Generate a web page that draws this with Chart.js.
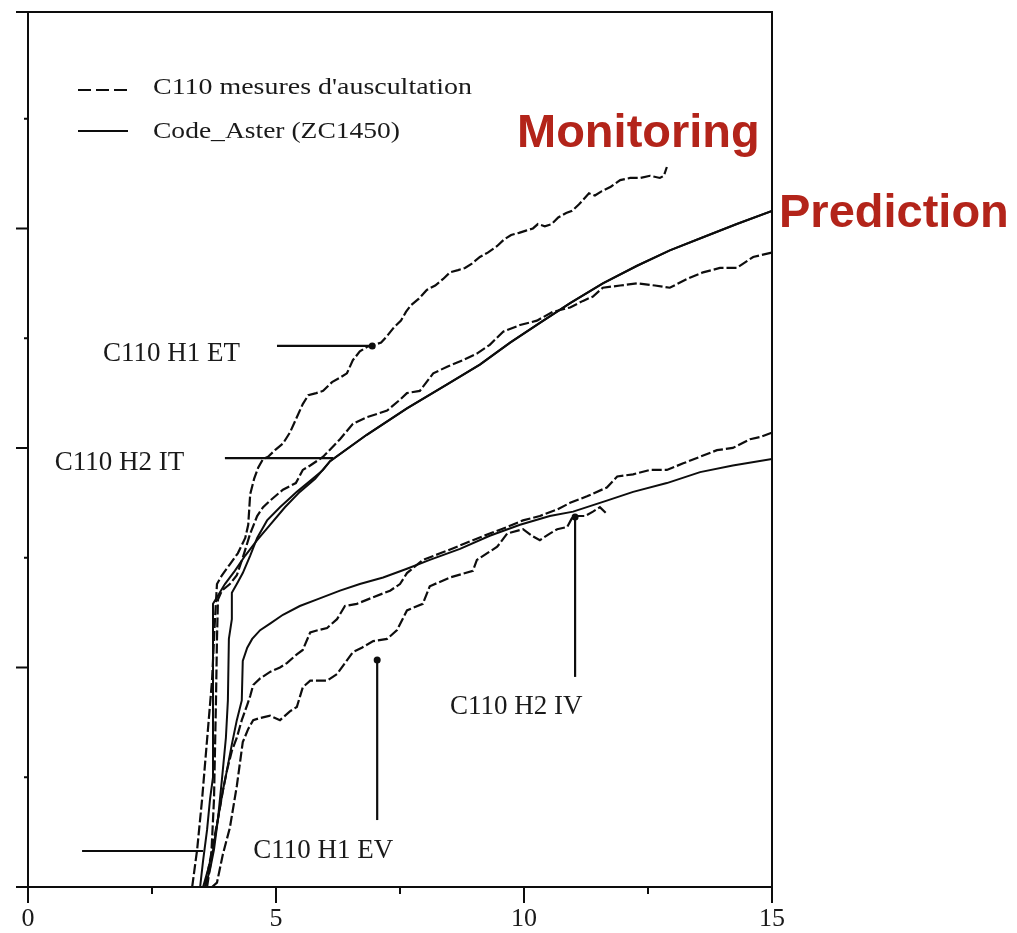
<!DOCTYPE html>
<html>
<head>
<meta charset="utf-8">
<script src="https://cdn.jsdelivr.net/npm/chart.js@4.4.1/dist/chart.umd.min.js"></script>
<style>
  html, body { margin: 0; padding: 0; background: #fff; }
  #wrap { width: 1017px; height: 933px; position: relative; }
</style>
</head>
<body>
<div id="wrap"><canvas id="creepChart"></canvas></div>
<script>
const mesureH1ET = [[3.31,0.00],[3.41,0.17],[3.51,0.40],[3.61,0.67],[3.71,0.94],[3.77,1.22],[3.81,1.38],[3.91,1.42],[4.07,1.47],[4.23,1.52],[4.38,1.59],[4.44,1.65],[4.48,1.79],[4.56,1.86],[4.64,1.91],[4.74,1.95],[4.84,1.96],[4.98,1.99],[5.14,2.02],[5.28,2.07],[5.42,2.14],[5.54,2.20],[5.65,2.24],[5.81,2.25],[5.95,2.26],[6.13,2.30],[6.29,2.32],[6.43,2.34],[6.55,2.40],[6.69,2.44],[6.83,2.46],[6.98,2.47],[7.12,2.48],[7.24,2.51],[7.38,2.55],[7.52,2.58],[7.62,2.62],[7.72,2.65],[7.88,2.68],[8.04,2.72],[8.21,2.74],[8.37,2.77],[8.51,2.80],[8.67,2.81],[8.81,2.82],[8.95,2.84],[9.11,2.87],[9.27,2.89],[9.46,2.92],[9.60,2.95],[9.74,2.97],[9.90,2.98],[10.04,2.99],[10.18,3.00],[10.28,3.02],[10.42,3.01],[10.56,3.02],[10.69,3.05],[10.85,3.07],[10.97,3.08],[11.11,3.11],[11.23,3.14],[11.31,3.16],[11.43,3.15],[11.57,3.17],[11.75,3.19],[11.94,3.22],[12.14,3.23],[12.34,3.23],[12.54,3.24],[12.74,3.23],[12.82,3.24],[12.88,3.28]];
const mesureH2IT = [[3.61,0.00],[3.69,0.12],[3.75,0.40],[3.79,0.85],[3.81,1.13],[3.83,1.31],[3.91,1.35],[4.07,1.38],[4.21,1.42],[4.33,1.50],[4.48,1.61],[4.62,1.69],[4.74,1.73],[4.88,1.76],[5.14,1.81],[5.40,1.84],[5.54,1.90],[5.69,1.92],[5.95,1.96],[6.29,2.04],[6.55,2.11],[6.83,2.14],[7.24,2.17],[7.50,2.22],[7.64,2.25],[7.90,2.26],[8.17,2.34],[8.45,2.37],[8.77,2.40],[9.05,2.43],[9.31,2.47],[9.58,2.53],[9.92,2.56],[10.26,2.58],[10.58,2.62],[10.93,2.64],[11.19,2.67],[11.39,2.69],[11.59,2.73],[11.94,2.74],[12.28,2.75],[12.64,2.74],[12.94,2.73],[13.29,2.77],[13.61,2.80],[13.95,2.82],[14.29,2.82],[14.62,2.87],[15.00,2.89]];
const mesureH2IV = [[3.57,0.00],[3.71,0.17],[3.83,0.31],[3.93,0.44],[4.01,0.53],[4.11,0.62],[4.21,0.68],[4.31,0.76],[4.42,0.83],[4.48,0.87],[4.54,0.92],[4.68,0.95],[4.88,0.98],[5.08,1.00],[5.22,1.02],[5.42,1.06],[5.54,1.08],[5.69,1.16],[5.85,1.17],[6.03,1.18],[6.23,1.22],[6.39,1.28],[6.63,1.29],[6.96,1.32],[7.30,1.35],[7.50,1.38],[7.64,1.43],[7.96,1.49],[8.31,1.52],[8.65,1.55],[8.97,1.58],[9.31,1.61],[9.66,1.64],[9.98,1.67],[10.32,1.69],[10.67,1.72],[10.93,1.75],[11.27,1.78],[11.67,1.82],[11.88,1.87],[12.20,1.88],[12.54,1.90],[12.88,1.90],[13.21,1.93],[13.55,1.96],[13.89,1.99],[14.21,2.00],[14.56,2.04],[14.76,2.05],[15.00,2.07]];
const mesureH1EV = [[3.71,0.00],[3.81,0.02],[3.93,0.15],[4.07,0.27],[4.21,0.46],[4.33,0.66],[4.44,0.72],[4.54,0.76],[4.68,0.77],[4.88,0.78],[5.08,0.76],[5.28,0.80],[5.42,0.82],[5.54,0.91],[5.69,0.94],[6.03,0.94],[6.23,0.97],[6.39,1.02],[6.55,1.07],[6.73,1.09],[6.96,1.12],[7.24,1.13],[7.44,1.17],[7.64,1.26],[7.96,1.29],[8.10,1.37],[8.51,1.41],[8.97,1.44],[9.05,1.49],[9.46,1.55],[9.66,1.61],[9.98,1.63],[10.16,1.60],[10.32,1.58],[10.52,1.61],[10.67,1.63],[10.87,1.64],[10.99,1.69],[11.23,1.69],[11.39,1.71],[11.53,1.73],[11.67,1.70]];

// Code_Aster computed curves (solid)
const asterA = [[3.47,0.00],[3.53,0.12],[3.61,0.26],[3.67,0.40],[3.73,0.50],[3.73,1.29],[3.81,1.32],[3.97,1.38],[4.17,1.44],[4.38,1.51],[4.62,1.58],[4.88,1.65],[5.18,1.73],[5.48,1.80],[5.79,1.86],[6.09,1.94],[6.83,2.06],[7.64,2.18],[8.45,2.29],[9.11,2.38],[9.72,2.48],[10.32,2.57],[10.93,2.66],[11.59,2.75],[12.28,2.83],[12.94,2.90],[13.61,2.96],[14.29,3.02],[15.00,3.08]];
const asterB = [[3.57,0.00],[3.67,0.08],[3.75,0.17],[3.83,0.31],[3.91,0.49],[3.99,0.68],[4.03,0.85],[4.05,1.13],[4.11,1.22],[4.11,1.34],[4.21,1.38],[4.33,1.43],[4.48,1.51],[4.62,1.59],[4.82,1.67],[5.08,1.73],[5.42,1.80],[5.69,1.85],[5.95,1.90],[6.09,1.94],[6.83,2.06],[7.64,2.18],[8.45,2.29],[9.11,2.38],[9.72,2.48],[10.32,2.57],[10.93,2.66],[11.59,2.75],[12.28,2.83],[12.94,2.90],[13.61,2.96],[14.29,3.02],[15.00,3.08]];
const asterC = [[3.53,0.00],[3.63,0.08],[3.73,0.17],[3.83,0.31],[3.93,0.44],[4.01,0.53],[4.11,0.65],[4.21,0.76],[4.31,0.85],[4.33,1.03],[4.42,1.09],[4.52,1.13],[4.68,1.17],[4.88,1.20],[5.14,1.24],[5.48,1.28],[5.83,1.31],[6.29,1.35],[6.69,1.38],[7.16,1.41],[7.64,1.45],[8.10,1.49],[8.71,1.54],[9.31,1.60],[9.92,1.65],[10.52,1.69],[10.99,1.71],[11.67,1.76],[12.20,1.80],[12.88,1.84],[13.55,1.89],[14.21,1.92],[15.00,1.95]];

// pointer lines of the curve labels, start -> end (dot on the end when flagged)
const pointerLines = [
  [[5.02, 2.465], [6.94, 2.465]],
  [[3.97, 1.954], [6.15, 1.954]],
  [[11.03, 0.957], [11.03, 1.686]],
  [[7.04, 0.305], [7.04, 1.034]],
  [[1.09, 0.164], [3.53, 0.164]]
];
const pointerDots = [true, false, true, true, false];

// curve labels and where they sit (x, y of the text's left middle)
const curveLabels = ['C110 H1 ET', 'C110 H2 IT', 'C110 H2 IV', 'C110 H1 EV'];
const curveLabelAt = [[1.51, 2.43], [0.54, 1.93], [8.51, 0.82], [4.54, 0.164]];

const legendLabels = ["C110 mesures d'auscultation", 'Code_Aster (ZC1450)'];

const xMajorTicks = [0, 5, 10, 15];
const xMinorTicks = [2.5, 7.5, 12.5];
const yMajorTicks = [1, 2, 3];
const yMinorTicks = [0.5, 1.5, 2.5, 3.5];

const toPoints = arr => arr.map(p => ({x: p[0], y: p[1]}));
const ink = '#0d0d0d';

const datasets = [];
[mesureH1ET, mesureH2IT, mesureH2IV, mesureH1EV].forEach(m => {
    datasets.push({data: toPoints(m), borderColor: ink, borderWidth: 2.2, borderDash: [10, 3], pointRadius: 0, tension: 0});
});
[asterA, asterB, asterC].forEach(c => {
    datasets.push({data: toPoints(c), borderColor: ink, borderWidth: 2, pointRadius: 0, tension: 0});
});
pointerLines.forEach((p, i) => {
    datasets.push({
        data: toPoints(p),
        borderColor: ink,
        borderWidth: 2.2,
        backgroundColor: ink,
        pointBorderWidth: 0,
        pointRadius: ctx => (pointerDots[i] && ctx.dataIndex === 1) ? 3.5 : 0,
    });
});

// draws the text at x,y squeezed/stretched to the given width
function fitText(ctx, text, x, y, width) {
    const w = ctx.measureText(text).width;
    ctx.save();
    ctx.translate(x, y);
    ctx.scale(width / w, 1);
    ctx.fillText(text, 0, 0);
    ctx.restore();
}

const framePlugin = {
    id: 'frame',
    afterDatasetsDraw(chart) {
        const {ctx, chartArea: a, scales: {x, y}} = chart;
        ctx.save();
        ctx.strokeStyle = ink;
        ctx.lineWidth = 2;
        ctx.beginPath();
        ctx.moveTo(a.left - 12, a.top); ctx.lineTo(a.right + 1, a.top);
        ctx.moveTo(a.left - 12, a.bottom); ctx.lineTo(a.right + 1, a.bottom);
        ctx.moveTo(a.left, a.top); ctx.lineTo(a.left, a.bottom);
        ctx.moveTo(a.right, a.top); ctx.lineTo(a.right, a.bottom);
        xMajorTicks.forEach(v => {
            const px = x.getPixelForValue(v);
            ctx.moveTo(px, a.bottom); ctx.lineTo(px, a.bottom + 16);
        });
        xMinorTicks.forEach(v => {
            const px = x.getPixelForValue(v);
            ctx.moveTo(px, a.bottom); ctx.lineTo(px, a.bottom + 7);
        });
        yMajorTicks.forEach(v => {
            const py = y.getPixelForValue(v);
            ctx.moveTo(a.left - 12, py); ctx.lineTo(a.left, py);
        });
        yMinorTicks.forEach(v => {
            const py = y.getPixelForValue(v);
            ctx.moveTo(a.left - 4, py); ctx.lineTo(a.left, py);
        });
        ctx.stroke();
        ctx.restore();
    },
    afterDraw(chart) {
        const {ctx, scales: {x, y}} = chart;
        ctx.save();
        ctx.fillStyle = '#1a1a1a';
        ctx.textBaseline = 'middle';
        ctx.textAlign = 'left';

        // curve labels
        ctx.font = '27px "Liberation Serif"';
        curveLabels.forEach((t, i) => {
            ctx.fillText(t, x.getPixelForValue(curveLabelAt[i][0]), y.getPixelForValue(curveLabelAt[i][1]));
        });

        // legend
        ctx.strokeStyle = ink;
        ctx.lineWidth = 2.2;
        ctx.setLineDash([13, 5]);
        ctx.beginPath(); ctx.moveTo(78, 90); ctx.lineTo(128, 90); ctx.stroke();
        ctx.setLineDash([]);
        ctx.beginPath(); ctx.moveTo(78, 131); ctx.lineTo(128, 131); ctx.stroke();
        ctx.font = '23px "Liberation Serif"';
        fitText(ctx, legendLabels[0], 153, 88, 319);
        fitText(ctx, legendLabels[1], 153, 132, 247);

        // red call-outs
        ctx.fillStyle = '#b3241a';
        ctx.textBaseline = 'alphabetic';
        ctx.font = 'bold 47px "Liberation Sans"';
        ctx.fillText('Monitoring', 517, 147);
        ctx.fillText('Prediction', 779, 227);
        ctx.restore();
    }
};

const ctx = document.getElementById('creepChart').getContext('2d');
const myChart = new Chart(ctx, {
    type: 'line',
    data: {datasets: datasets},
    options: {
        responsive: true,
        maintainAspectRatio: false,
        animation: false,
        layout: {padding: {left: 28, top: 12, right: 245, bottom: 0}},
        scales: {
            x: {
                type: 'linear',
                min: 0,
                max: 15,
                grid: {display: false, drawTicks: false},
                border: {display: false},
                afterFit: scale => { scale.height = 46; },
                ticks: {
                    stepSize: 5,
                    color: '#1a1a1a',
                    padding: 17,
                    maxRotation: 0,
                    font: {family: '"Liberation Serif"', size: 26},
                }
            },
            y: {
                type: 'linear',
                display: false,
                min: 0,
                max: 3.986,
            }
        },
        hover: {mode: null},
        plugins: {
            legend: {display: false},
            tooltip: {enabled: false},
        }
    },
    plugins: [framePlugin]
});
</script>
</body>
</html>
